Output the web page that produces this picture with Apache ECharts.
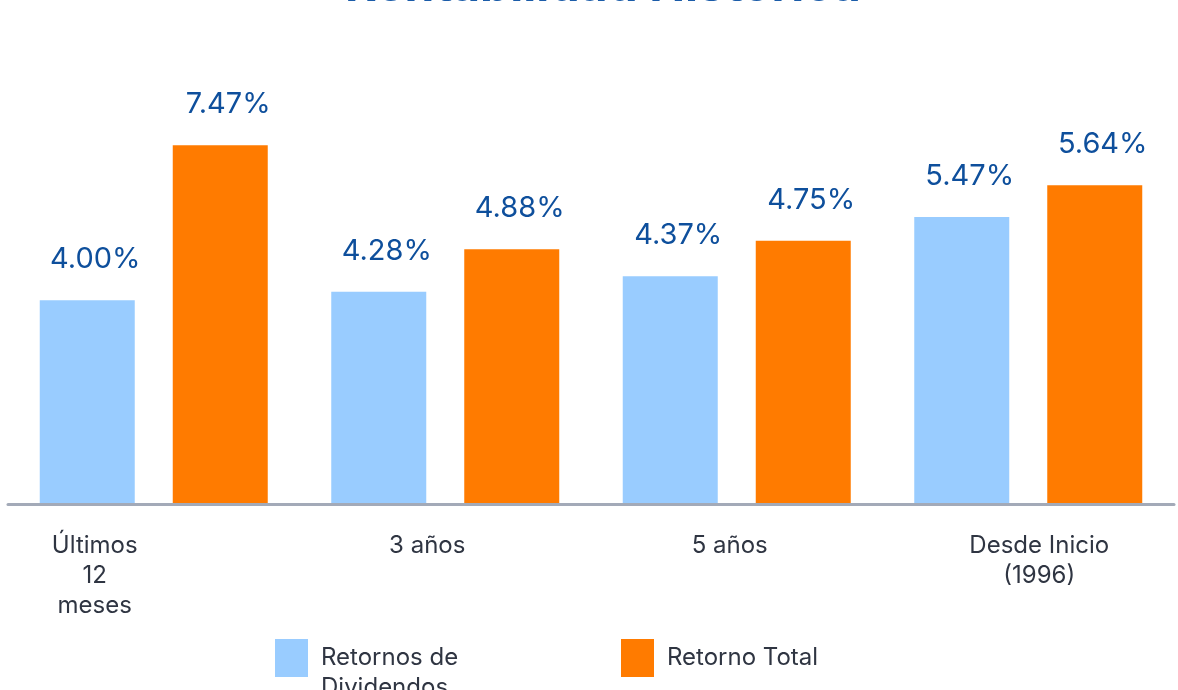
<!DOCTYPE html>
<html>
<head>
<meta charset="utf-8">
<script src="https://cdn.jsdelivr.net/npm/echarts@6/dist/echarts.min.js"></script>
<style>
  html, body { margin: 0; padding: 0; background: #fff; }
  #chart { width: 1178px; height: 690px; }
</style>
</head>
<body>
<div id="chart"></div>
<script>
var categorias = ['Últimos\n12\nmeses', '3 años', '5 años', 'Desde Inicio\n(1996)'];
// valores que se leen en las etiquetas
var retornosDividendos = [4.00, 4.28, 4.37, 5.47];
var retornoTotal = [7.47, 4.88, 4.75, 5.64];
// altura de las barras tal como se ven en la imagen
var alturaDividendos = [3.93, 4.09, 4.39, 5.53];
var alturaTotal = [6.91, 4.91, 5.07, 6.14];
// desplazamiento de las etiquetas del eje
var desplazamiento = [-59, -18, -7, 11];

var fuente = 'Inter';

var myChart = echarts.init(document.getElementById('chart'));

var option = {
  backgroundColor: '#ffffff',
  // el título queda cortado por arriba, como en la imagen
  graphic: [
    {
      type: 'text',
      left: 345,
      top: -37,
      style: {
        text: 'Rentabilidad Histórica',
        fontFamily: fuente,
        fontSize: 48,
        fontWeight: 'bold',
        fill: '#1b5ca9'
      }
    }
  ],
  legend: [
    {
      data: ['Retornos de Dividendos'],
      left: 270,
      top: 608,
      itemWidth: 33,
      itemHeight: 38,
      icon: 'rect',
      formatter: function () { return ' \nRetornos de\nDividendos'; },
      textStyle: { fontFamily: fuente, fontSize: 24, lineHeight: 30, color: '#2f3542', padding: [0, 0, 0, 8] }
    },
    {
      data: ['Retorno Total'],
      left: 616,
      top: 634,
      itemWidth: 33,
      itemHeight: 38,
      icon: 'rect',
      textStyle: { fontFamily: fuente, fontSize: 24, lineHeight: 30, color: '#2f3542', padding: [0, 0, 0, 8] }
    }
  ],
  grid: { left: 8, right: 4, top: 88.5, bottom: 185.5 },
  xAxis: {
    type: 'category',
    z: 3,
    data: categorias.map(function (c, i) {
      var d = desplazamiento[i];
      return {
        value: c,
        textStyle: { padding: d < 0 ? [0, -2 * d, 0, 0] : [0, 0, 0, 2 * d] }
      };
    }),
    axisLine: { show: true, lineStyle: { color: '#a3aab8', width: 3 } },
    axisTick: { show: false },
    axisLabel: {
      fontFamily: fuente,
      fontSize: 24,
      lineHeight: 30,
      color: '#2f3542',
      margin: 26,
      interval: 0
    }
  },
  yAxis: {
    type: 'value',
    min: 0,
    max: 8,
    show: false,
    splitLine: { show: false }
  },
  series: [
    {
      name: 'Retornos de Dividendos',
      type: 'bar',
      data: alturaDividendos,
      barWidth: 95,
      barGap: '40%',
      itemStyle: { color: '#99ccff' },
      label: {
        show: true,
        position: 'top',
        distance: 26,
        offset: [8, 0],
        fontFamily: fuente,
        fontSize: 29,
        color: '#0e4f9c',
        formatter: function (p) { return retornosDividendos[p.dataIndex].toFixed(2) + '%'; }
      }
    },
    {
      name: 'Retorno Total',
      type: 'bar',
      data: alturaTotal,
      barWidth: 95,
      itemStyle: { color: '#ff7b00' },
      label: {
        show: true,
        position: 'top',
        distance: 26,
        offset: [8, 0],
        fontFamily: fuente,
        fontSize: 29,
        color: '#0e4f9c',
        formatter: function (p) { return retornoTotal[p.dataIndex].toFixed(2) + '%'; }
      }
    }
  ]
};
myChart.setOption(option);
</script>
</body>
</html>
